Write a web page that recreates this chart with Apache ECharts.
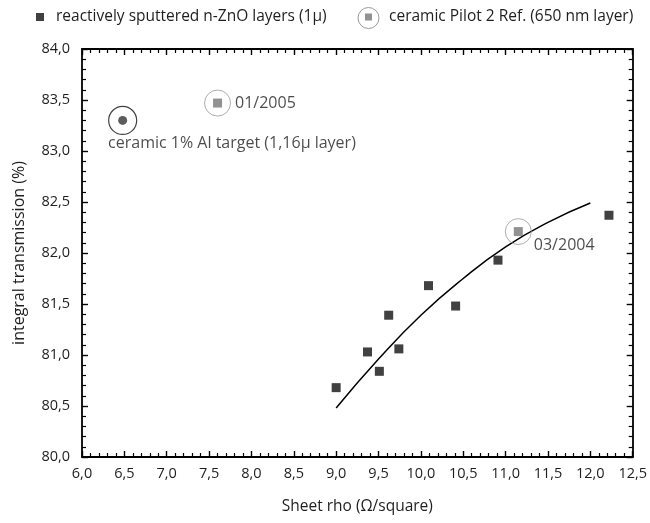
<!DOCTYPE html>
<html>
<head>
<meta charset="utf-8">
<script src="https://cdn.jsdelivr.net/npm/echarts@6/dist/echarts.min.js"></script>
<style>
  html, body { margin: 0; padding: 0; background: #fff; }
  #chart { width: 650px; height: 523px; }
</style>
</head>
<body>
<div id="chart"></div>
<script>
// reactively sputtered n-ZnO layers
const nznoRho = [9.0, 9.37, 9.51, 9.62, 9.74, 10.09, 10.41, 10.91, 12.22]
const nznoTrans = [80.68, 81.03, 80.84, 81.39, 81.06, 81.68, 81.48, 81.93, 82.37]

// ceramic Pilot 2 Ref. samples
const pilotRho = [11.15, 7.6]
const pilotTrans = [82.21, 83.47]
const pilotDates = ['03/2004', '01/2005']

// ceramic 1% Al target
const alRho = [6.48]
const alTrans = [83.30]

// fitted trend line
const fitRho = [9.0, 9.5, 10.0, 10.5, 11.0, 11.5, 12.0]
const fitTrans = [80.48, 80.96, 81.39, 81.75, 82.06, 82.30, 82.49]

const FONT = 'Open Sans'
const TXT = '#1e1e1e'
const nameZno = 'reactively sputtered n-ZnO layers (1\u00b5)'
const namePilot = 'ceramic Pilot 2 Ref. (650 nm layer)'

const comma = v => v.toFixed(1).replace('.', ',')
const zip = (xs, ys) => xs.map((x, i) => [x, ys[i]])

const axisLine = { show: true, lineStyle: { color: '#000', width: 1.8 } }
const tick = { show: true, inside: true, length: 6, lineStyle: { color: '#000', width: 1.4 } }
const minor = { show: true, splitNumber: 5, length: 4, lineStyle: { color: '#000', width: 1.2 } }

function xAxis(pos, labels) {
  return {
    type: 'value', position: pos, min: 6, max: 12.5, interval: 0.5,
    name: labels ? 'Sheet rho (\u03a9/square)' : '',
    nameLocation: 'middle', nameGap: 42,
    nameTextStyle: { fontFamily: FONT, fontSize: 15.5, color: TXT },
    axisLine, axisTick: tick, minorTick: minor,
    splitLine: { show: false }, minorSplitLine: { show: false },
    axisLabel: { show: labels, formatter: comma, fontFamily: FONT, fontSize: 14.5, color: TXT, margin: 9 },
  }
}
function yAxis(pos, labels) {
  return {
    type: 'value', position: pos, min: 80, max: 84, interval: 0.5,
    name: labels ? 'integral transmission (%)' : '',
    nameLocation: 'middle', nameGap: 55,
    nameTextStyle: { fontFamily: FONT, fontSize: 16, color: TXT },
    axisLine, axisTick: tick, minorTick: minor,
    splitLine: { show: false }, minorSplitLine: { show: false },
    axisLabel: { show: labels, formatter: comma, fontFamily: FONT, fontSize: 14.5, color: TXT, margin: 12 },
  }
}

const chart = echarts.init(document.getElementById('chart'))
chart.setOption({
  animation: false,
  grid: { left: 82, right: 13, top: 49, bottom: 66 },
  legend: [
    {
      data: [{ name: nameZno, icon: 'rect' }], left: 36, top: 9, padding: 0,
      itemWidth: 8, itemHeight: 8,
      textStyle: { fontFamily: FONT, fontSize: 15.5, color: TXT, padding: [0, 0, 0, 7] },
    },
    {
      data: [{ name: namePilot, icon: 'rect' }], left: 365, top: 9, padding: 0,
      itemWidth: 7, itemHeight: 7,
      textStyle: { fontFamily: FONT, fontSize: 15.5, color: TXT, padding: [0, 0, 0, 12] },
    },
  ],
  graphic: [{
    type: 'circle', shape: { cx: 368.5, cy: 18, r: 10.5 },
    style: { fill: 'none', stroke: '#999', lineWidth: 1 },
  }],
  xAxis: [xAxis('bottom', true), xAxis('top', false)],
  yAxis: [yAxis('left', true), yAxis('right', false)],
  series: [
    {
      name: 'fit', type: 'line', smooth: true, showSymbol: false,
      lineStyle: { color: '#000', width: 1.5 },
      data: zip(fitRho, fitTrans), z: 1,
    },
    {
      name: nameZno, type: 'scatter', symbol: 'rect', symbolSize: 9,
      itemStyle: { color: '#111' },
      data: zip(nznoRho, nznoTrans), z: 3,
    },
    {
      name: 'pilot ring', type: 'scatter', symbol: 'circle', symbolSize: 26,
      itemStyle: { color: 'rgba(0,0,0,0)', borderColor: '#999', borderWidth: 1 },
      data: zip(pilotRho, pilotTrans), z: 2, silent: true,
    },
    {
      name: namePilot, type: 'scatter', symbol: 'rect', symbolSize: 9,
      itemStyle: { color: '#777' },
      data: pilotRho.map((x, i) => ({
        value: [x, pilotTrans[i]],
        label: {
          show: true, formatter: pilotDates[i], position: 'right',
          distance: i === 0 ? 11 : 13, offset: i === 0 ? [0, 14] : [0, 0],
          fontFamily: FONT, fontSize: 16, color: TXT,
        },
      })),
      z: 3,
    },
    {
      name: 'al ring', type: 'scatter', symbol: 'circle', symbolSize: 28,
      itemStyle: { color: 'rgba(0,0,0,0)', borderColor: '#111', borderWidth: 1.2 },
      data: zip(alRho, alTrans).map(v => ({
        value: v,
        label: {
          show: true, formatter: 'ceramic 1% Al target (1,16\u00b5 layer)',
          position: [0, 30], align: 'left', verticalAlign: 'top',
          fontFamily: FONT, fontSize: 16, color: TXT,
        },
      })),
      z: 2, silent: true,
    },
    {
      name: 'al dot', type: 'scatter', symbol: 'circle', symbolSize: 9,
      itemStyle: { color: '#333' },
      data: zip(alRho, alTrans), z: 3,
    },
  ],
})
</script>
</body>
</html>
